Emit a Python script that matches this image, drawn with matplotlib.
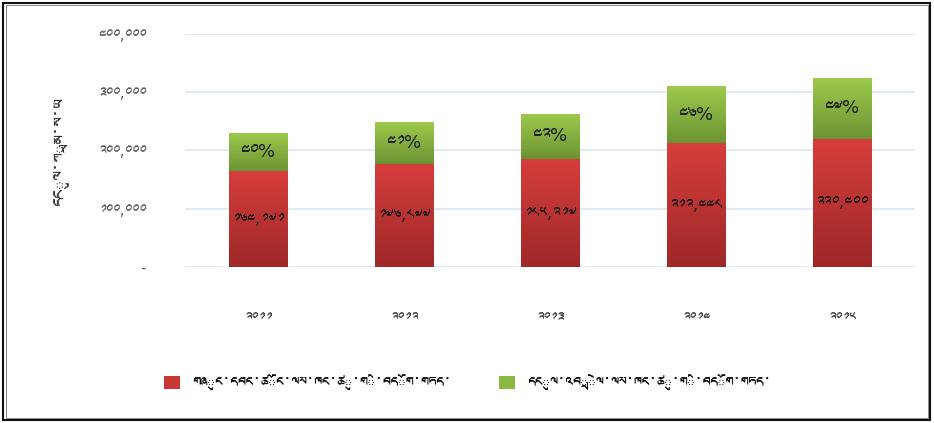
import numpy as np
import matplotlib
matplotlib.use("Agg")
import matplotlib.pyplot as plt
from matplotlib import font_manager
from matplotlib.ft2font import FT2Font
from matplotlib.patches import Rectangle, Patch

# ---------------- data ----------------
years = ["༢༠༡༡", "༢༠༡༢", "༢༠༡༣", "༢༠༡༤", "༢༠༡༥"]
soe_assets = [164171, 176877, 185217, 212448, 220400]      # red segment
fi_assets = [65700, 72500, 77800, 97700, 103600]           # green segment
pct_labels = ["༤༠%", "༤༡%", "༤༢%", "༤༦%", "༤༧%"]
soe_labels = ["༡༦༤,༡༧༡", "༡༧༦,༨༧༧", "༡༨༥,༢༡༧", "༢༡༢,༤༤༨", "༢༢༠,༤༠༠"]
yticks = [0, 100000, 200000, 300000, 400000]
ytick_labels = ["-", "༡༠༠,༠༠༠", "༢༠༠,༠༠༠", "༣༠༠,༠༠༠", "༤༠༠,༠༠༠"]
ylabel = "དངུལ་ཀྲམ་ས་ཡ"
legend_labels = ["གཞུང་དབང་ཚོང་ལས་ཁང་ཚུ་གི་བདོག་གཏད་",
                 "དངུལ་འབྲེལ་ལས་ཁང་ཚུ་གི་བདོག་གཏད་"]

# ---------------- font with Tibetan glyphs ----------------
def find_tibetan_font():
    for path in font_manager.findSystemFonts():
        try:
            cm = FT2Font(path).get_charmap()
        except Exception:
            continue
        if 0x0F40 in cm and 0x0F22 in cm:
            try:
                font_manager.fontManager.addfont(path)
                return font_manager.FontProperties(fname=path).get_name()
            except Exception:
                continue
    return None

tib = find_tibetan_font()
families = ["DejaVu Sans"] + ([tib] if tib else [])
plt.rcParams["font.family"] = families

# ---------------- figure ----------------
fig = plt.figure(figsize=(9.34, 4.23), dpi=100)
ax = fig.add_axes([185/934, 1-267/423, 730/934, 233/423])

x = np.arange(len(years))
width = 0.40

def gradient_bar(ax, xc, bottom, height, top_rgb, bot_rgb):
    r = Rectangle((xc - width/2, bottom), width, height, facecolor="none",
                  edgecolor="none")
    ax.add_patch(r)
    grad = np.linspace(0, 1, 256)[:, None]
    top = np.array(top_rgb) / 255.0
    bot = np.array(bot_rgb) / 255.0
    img = top[None, None, :] * (1 - grad[:, :, None]) + bot[None, None, :] * grad[:, :, None]
    im = ax.imshow(img, extent=(xc - width/2, xc + width/2, bottom, bottom + height),
                   aspect="auto", origin="upper", zorder=2, interpolation="bilinear")
    im.set_clip_path(r)
    return r

red_top, red_bot = (214, 62, 60), (158, 40, 40)
grn_top, grn_bot = (158, 202, 76), (108, 148, 52)

for i in range(len(years)):
    gradient_bar(ax, x[i], 0, soe_assets[i], red_top, red_bot)
    gradient_bar(ax, x[i], soe_assets[i], fi_assets[i], grn_top, grn_bot)
    ax.text(x[i], soe_assets[i] * 0.5, soe_labels[i], ha="center", va="center",
            fontsize=11.5, color="#1a1a1a", zorder=4)
    ax.text(x[i], soe_assets[i] + fi_assets[i] * 0.5, pct_labels[i], ha="center",
            va="center", fontsize=13, color="#1a1a1a", zorder=4)

ax.set_xlim(-0.5, len(years) - 0.5)
ax.set_ylim(0, 400000)
ax.set_yticks(yticks)
ax.set_yticklabels(ytick_labels)
ax.set_xticks(x)
ax.set_xticklabels(years)
ax.grid(axis="y", color="#dbe5f1", linewidth=1.2, zorder=0)
ax.set_axisbelow(True)
for s in ax.spines.values():
    s.set_visible(False)
ax.tick_params(axis="y", length=0, pad=28, labelsize=10.5, labelcolor="#595959")
ax.tick_params(axis="x", length=0, pad=32, labelsize=10, labelcolor="#404040")
ax.set_ylabel(ylabel, fontsize=13, color="#333333", labelpad=20)

handles = [Patch(facecolor=np.array((200, 55, 52))/255), Patch(facecolor=np.array((138, 184, 66))/255)]
fig.legend(handles, legend_labels, loc="center", bbox_to_anchor=(0.5006, 1-383/423),
           ncol=2, frameon=False, fontsize=11, handlelength=1.0, handleheight=1.0,
           columnspacing=3.15, handletextpad=0.8)

# double frame
fig.patches.append(Rectangle((3/934, 3/423), 927/934, 417/423, transform=fig.transFigure,
                             fill=False, edgecolor="#111111", linewidth=1.5))
fig.patches.append(Rectangle((5.5/934, 5.5/423), 922/934, 412/423, transform=fig.transFigure,
                             fill=False, edgecolor="#888888", linewidth=0.7))

fig.savefig("out.png", dpi=100)
